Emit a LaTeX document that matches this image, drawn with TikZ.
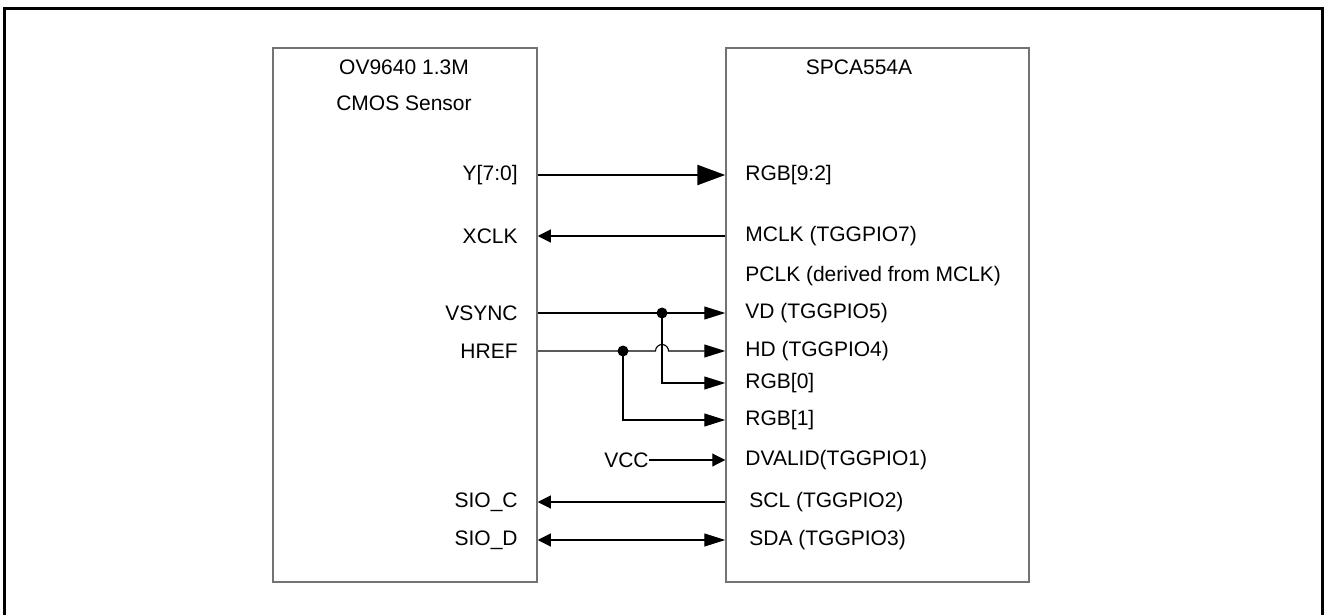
\documentclass[tikz,border=0pt]{standalone}
\usepackage{fontspec}
\setmainfont{Liberation Sans}
\usetikzlibrary{arrows.meta}

\tikzset{
  chip/.style={draw=black!55,line width=0.75pt,minimum width=#1,minimum height=267pt,inner sep=0pt},
  pin/.style={inner sep=0pt},
  wire/.style={line width=0.55pt},
  tipr/.style={-{Triangle[length=10.5pt,width=6.5pt]}},
  tipl/.style={-{Triangle[length=6.5pt,width=6.5pt]}},
  bus/.style={line width=1.2pt,-{Triangle[length=14pt,width=10pt]}},
  dot/.style={circle,fill,inner sep=0pt,minimum size=5.5pt}
}

\begin{document}
\begin{tikzpicture}[x=0.5pt,y=-0.5pt,every node/.append style={font=\fontsize{10.5}{12.6}\selectfont}]
\useasboundingbox (0,0) rectangle (1327,615);
\draw[line width=1.5pt] (4.5,615) -- (4.5,9) -- (1322.5,9) -- (1322.5,615);

% the two chips
\node[chip=132pt] (sensor) at (405,315) {};
\node[chip=151.5pt] (dsp) at (877.5,315) {};
\node (sname) at (404,67) {OV9640 1.3M};
\node (stype) at (404,103) {CMOS Sensor};
\node (dname) at (859,67) {SPCA554A};

% pin names
\foreach \n/\y/\t in {%
  y/175/Y[7:0], xclk/236/XCLK, vsync/313/VSYNC, href/351/HREF, sioc/502/SIO\_C, siod/540/SIO\_D} {
   \node[pin,anchor=east] (\n) at (518,\y) {\t};
}
\foreach \n/\x/\y/\t in {%
  rgbhi/745/175/RGB[9:2], mclk/745/236/MCLK (TGGPIO7), pclk/745/276/PCLK (derived from MCLK),
  vd/745/313/VD (TGGPIO5), hd/745/351/HD (TGGPIO4), rgbz/745/383/RGB[0], rgbo/745/420/RGB[1],
  dvalid/745/460/DVALID(TGGPIO1), scl/749/502/SCL (TGGPIO2), sda/749/540/SDA (TGGPIO3)} {
   \node[pin,anchor=west] (\n) at (\x,\y) {\t};
}
\node[pin,anchor=east] (vcc) at (649,460) {VCC};

% connections
\draw[bus] (sensor.east |- y) -- (dsp.west |- rgbhi);
\draw[wire,tipl] (dsp.west |- mclk) -- (sensor.east |- xclk);
\node[dot] (jv) at (662,313) {};
\node[dot] (jh) at (623,351) {};
\draw[wire,tipr] (sensor.east |- vsync) -- (dsp.west |- vd);
\draw[wire,tipr] (sensor.east |- href) -- ([xshift=-3.25pt]jv.center |- href)
   arc[start angle=180,end angle=0,radius=3.25pt] -- (dsp.west |- hd);
\draw[wire,tipr] (jv.center) |- (dsp.west |- rgbz);
\draw[wire,tipr] (jh.center) |- (dsp.west |- rgbo);
\draw[wire,tipl] (vcc.east) -- (dsp.west |- dvalid);
\draw[wire,tipl] (dsp.west |- scl) -- (sensor.east |- sioc);
\draw[wire,{Triangle[length=6.5pt,width=6.5pt]}-{Triangle[length=10.5pt,width=6.5pt]}] (sensor.east |- siod) -- (dsp.west |- sda);
\end{tikzpicture}
\end{document}
